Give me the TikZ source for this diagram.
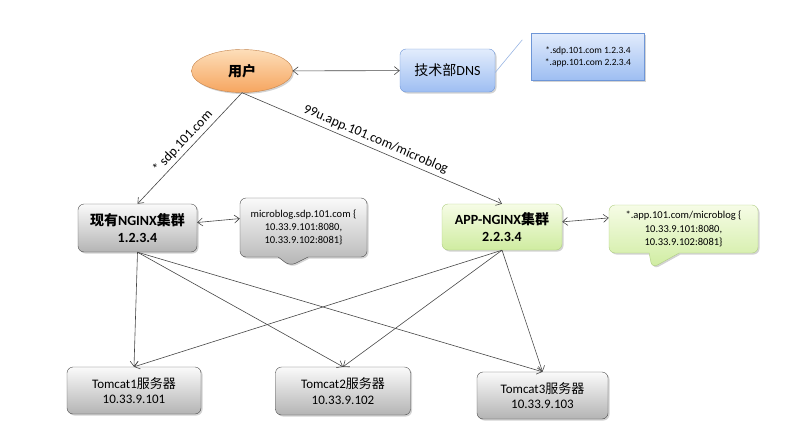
\documentclass[tikz,border=0pt]{standalone}
\usepackage{fontspec}
\setmainfont{Carlito}
\newfontfamily\cjk{Noto Sans CJK SC}
\usetikzlibrary{positioning, arrows.meta, shapes.geometric, shapes.callouts, shadows}

\definecolor{linegray}{RGB}{70,70,70}
\definecolor{orangetop}{RGB}{253,222,185}
\definecolor{orangebot}{RGB}{246,165,95}
\definecolor{bluetop}{RGB}{226,236,252}
\definecolor{bluebot}{RGB}{158,190,242}
\definecolor{blueedge}{RGB}{110,150,215}
\definecolor{greentop}{RGB}{246,252,230}
\definecolor{greenbot}{RGB}{207,236,160}
\definecolor{greenedge}{RGB}{175,205,130}
\definecolor{graytop}{RGB}{250,250,250}
\definecolor{graybot}{RGB}{180,180,180}

\newcommand\boxfont{\fontsize{14}{17}\selectfont}
\newcommand\tcfont{\fontsize{13}{15.5}\selectfont}
\newcommand\notefont{\fontsize{10.5}{13.3}\selectfont}
\newcommand\dnsnotefont{\fontsize{9.5}{12}\selectfont}
\newcommand\lblfont{\fontsize{13.5}{16}\selectfont}

\begin{document}
\begin{tikzpicture}[
    x=1pt, y=-1pt,
    shade/.style={drop shadow={opacity=0.35, shadow xshift=1.5pt, shadow yshift=-1.5pt}},
    graybox/.style={rectangle, draw=gray!60!black, rounded corners=6pt, top color=graytop, bottom color=graybot, align=center, inner sep=0pt, shade},
    greenbox/.style={rectangle, draw=greenedge, rounded corners=6pt, top color=greentop, bottom color=greenbot, align=center, inner sep=0pt, shade},
    note/.style={rectangle callout, rounded corners=6pt, align=center, inner sep=0pt, callout pointer width=30pt, shade},
    link/.style={draw=linegray, line width=0.6pt, >={Straight Barb[length=5pt,width=8pt]}}
]
\useasboundingbox (0,0) rectangle (787,431);

% top row
\node[ellipse, draw=orangebot!80!black, top color=orangetop, bottom color=orangebot, minimum width=101pt, minimum height=43pt, inner sep=0pt, shade, font=\boxfont\bfseries] (user) at (242,71) {\cjk 用户};
\node[rectangle, draw=blueedge, rounded corners=6pt, top color=bluetop, bottom color=bluebot, minimum width=95pt, minimum height=43pt, inner sep=0pt, shade, font=\boxfont] (dns) at (447.5,70.5) {{\cjk 技术部}DNS};
\node[rectangle, draw=blueedge, top color=bluetop, bottom color=bluebot, minimum width=113pt, minimum height=47pt, inner sep=0pt, align=center, shade, font=\dnsnotefont] (dnsnote) at (588,56.5) {*.sdp.101.com 1.2.3.4\\*.app.101.com 2.2.3.4};
\coordinate (dnstail) at ([xshift=-9pt,yshift=-7pt]dnsnote.north west);

% nginx row
\node[graybox, minimum width=119pt, minimum height=48pt, font=\boxfont\bfseries] (nginx) at (137.5,228) {{\cjk 现有}NGINX{\cjk 集群}\\1.2.3.4};
\node[note, draw=gray!60!black, top color=graytop, bottom color=graybot, minimum width=127pt, minimum height=59pt, callout absolute pointer={(290,266)}, font=\notefont] (note1) at (303.5,227.5) {microblog.sdp.101.com \{\\10.33.9.101:8080,\\10.33.9.102:8081\}};
\node[greenbox, minimum width=120pt, minimum height=46pt, font=\boxfont\bfseries] (app) at (502,227) {APP-NGINX{\cjk 集群}\\2.2.3.4};
\node[note, draw=greenedge, top color=greentop, bottom color=greenbot, minimum width=149pt, minimum height=48pt, callout absolute pointer={(652,268)}, font=\notefont] (note2) at (683.5,229) {*.app.101.com/microblog \{\\10.33.9.101:8080,\\10.33.9.102:8081\}};

% tomcat row
\node[graybox, minimum width=134pt, minimum height=47pt, font=\tcfont] (tc1) at (134,390.5) {Tomcat1{\cjk 服务器}\\10.33.9.101};
\node[graybox, minimum width=135pt, minimum height=48pt, font=\tcfont] (tc2) at (343,391) {Tomcat2{\cjk 服务器}\\10.33.9.102};
\node[graybox, minimum width=131pt, minimum height=47pt, font=\tcfont] (tc3) at (542.5,395.5) {Tomcat3{\cjk 服务器}\\10.33.9.103};

% connectors
\draw[link, <->] (user) -- (dns);
\draw[draw=blueedge!70, line width=0.6pt] (dnstail) -- ([yshift=-2pt]dns.east);
\draw[link, ->] (user.south) -- node[midway, sloped, above, font=\lblfont] {* sdp.101.com} (nginx.north);
\draw[link, ->] (user.south) -- node[midway, sloped, above, font=\lblfont] {99u.app.101.com/microblog} (app.north);
\draw[link, <->] (nginx) -- (note1);
\draw[link, <->] (app) -- (note2);
\foreach \tc in {tc1, tc2, tc3} {
    \draw[link, ->] (nginx.south) -- (\tc.north);
    \draw[link, ->] (app.south) -- (\tc.north);
}
\end{tikzpicture}
\end{document}
